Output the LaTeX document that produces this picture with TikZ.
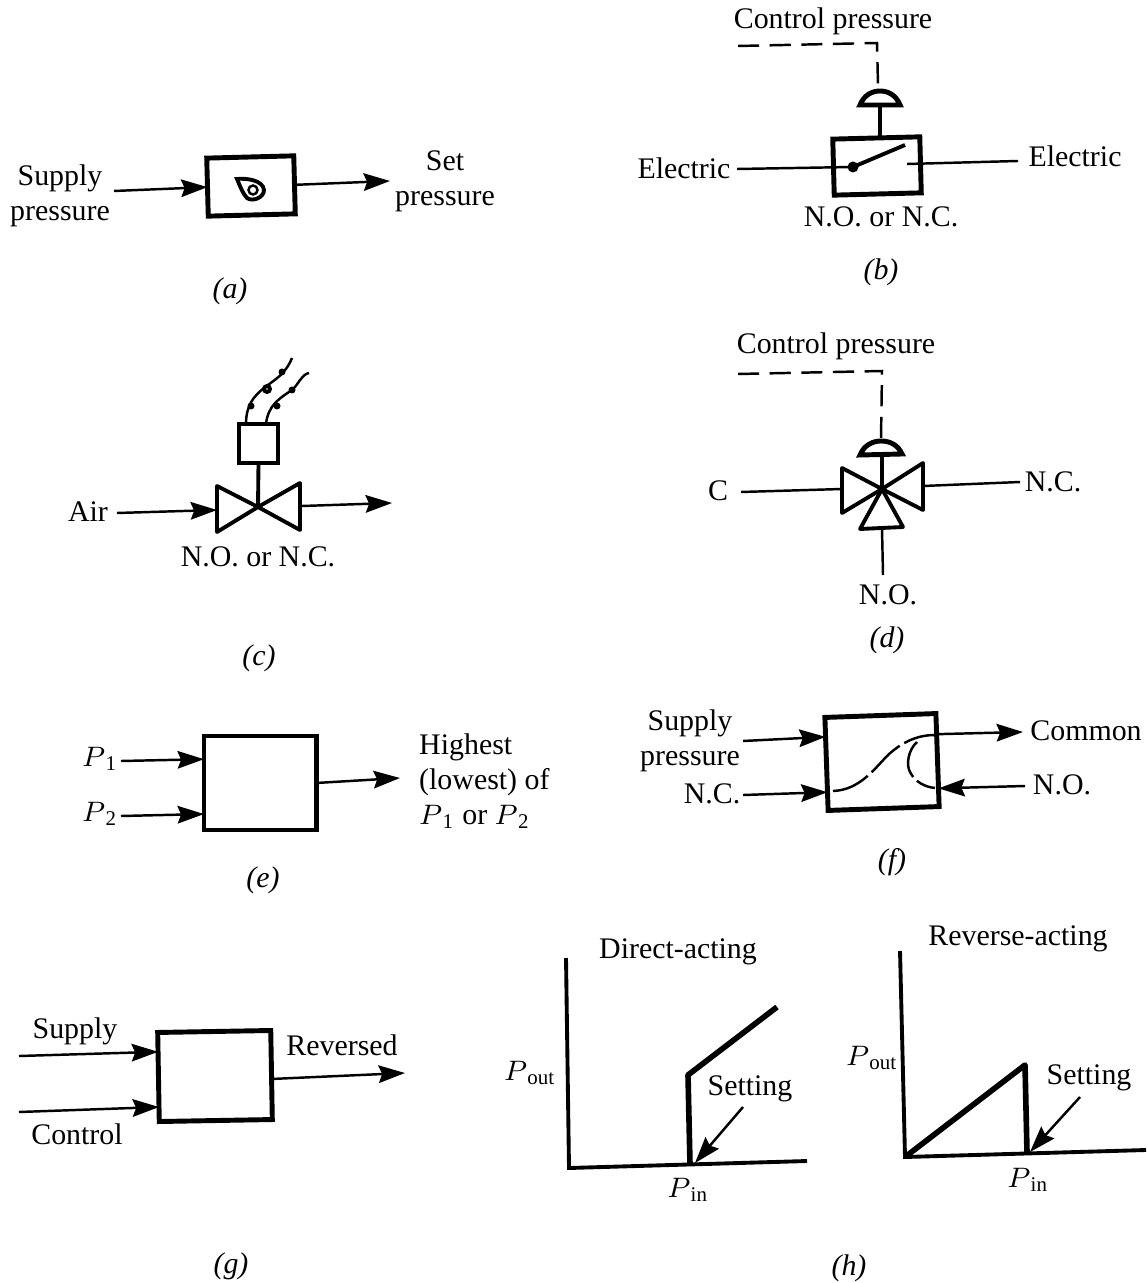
\documentclass[tikz,border=0pt]{standalone}
\usepackage{fontspec}
\setmainfont{Liberation Serif}
\usetikzlibrary{arrows.meta}
\tikzset{
	lbl/.style={font=\fontsize{8.5}{10}\selectfont, inner sep=1pt, align=center},
	thinline/.style={line width=0.7pt},
	midline/.style={line width=1.1pt},
	thickline/.style={line width=1.4pt},
	arrline/.style={thinline, -{Stealth[length=7.5pt,width=5pt,inset=1pt]}},
	dashline/.style={thinline, dash pattern=on 6pt off 3pt},
	blockbox/.style={draw, thickline, inner sep=0pt, outer sep=0pt},
	graphline/.style={line width=1.6pt, line join=round},
}
\begin{document}
\begin{tikzpicture}[x=0.01cm, y=-0.01cm]
	\useasboundingbox (0,0) rectangle (1146,1283);

	\node[blockbox, minimum width=0.87cm, minimum height=0.58cm, rotate=1.5] (abox) at (251,186) {};
	\coordinate (asupply) at (114,191);
	\coordinate (aset) at (390,181);
	\draw[arrline] (asupply) -- (abox.west);
	\draw[arrline] (abox.east) -- (aset);
	\draw[midline] (237,179) .. controls (246,178) and (263,180) .. (264,190) .. controls (264,198) and (252,202) .. (247,198) .. controls (243,194) and (240,186) .. cycle;
	\draw[thinline] (253,190) circle (4.5);
	\node[lbl] (asupplylbl) at (60,196) {Supply\\pressure};
	\node[lbl] (asetlbl) at (445,181) {Set\\pressure};
	\node[lbl] (acap) at (230,291) {\textit{(a)}};

	\node[blockbox, minimum width=0.87cm, minimum height=0.56cm, rotate=1.5] (bbox) at (877,166) {};
	\coordinate (belecl) at (737,169);
	\coordinate (belecr) at (1018,161);
	\coordinate (bdot) at (853,167);
	\coordinate (bcontact) at (907,164);
	\coordinate (barm) at (905,145);
	\coordinate (bstem) at (880,105);
	\coordinate (bstemfoot) at (880,137);
	\coordinate (bctrl) at (738,46);
	\coordinate (bcorner) at (877,43);
	\coordinate (bdome) at (878,86);
	\draw[thinline] (belecl) -- (bdot);
	\draw[thinline] (bcontact) -- (belecr);
	\draw[midline] (bdot) -- (barm);
	\fill (bdot) circle (5.5);
	\draw[thickline] (bstemfoot) -- (bstem);
	\draw[thickline] (860,105) .. controls (864,95) and (872,91) .. (880,91) .. controls (888,91) and (896,95) .. (900,105) -- cycle;
	\draw[dashline] (bctrl) -- (bcorner) -- (bdome);
	\node[lbl] (bctrllbl) at (833,21) {Control pressure};
	\node[lbl] (belecllbl) at (684,168) {Electric};
	\node[lbl] (belecrlbl) at (1075,156) {Electric};
	\node[lbl] (bnote) at (881,217) {N.O. or N.C.};
	\node[lbl] (bcap) at (881,272) {\textit{(b)}};

	\node[blockbox, midline, minimum width=0.39cm, minimum height=0.39cm] (cbox) at (258.5,443.5) {};
	\coordinate (cvalve) at (258,507);
	\coordinate (cair) at (117,513);
	\coordinate (cinl) at (217,510);
	\coordinate (coutl) at (302,506);
	\coordinate (cout) at (392,503);
	\draw[midline] (cbox.south) -- (cvalve);
	\draw[midline, line join=round] (217,486) -- (217,532) -- (cvalve) -- cycle;
	\draw[midline, line join=round] (300,483) -- (300,530) -- (cvalve) -- cycle;
	\draw[arrline] (cair) -- (cinl);
	\draw[arrline] (coutl) -- (cout);
	\draw[thinline] (246,424) .. controls (246,405) and (254,396) .. (264,388) .. controls (274,380) and (285,375) .. (292,358);
	\draw[thinline] (266,424) .. controls (268,405) and (280,398) .. (292,390) .. controls (298,385) and (302,374) .. (309,373);
	\fill (251,406) circle (3.5);
	\draw[midline] (267,389) circle (3);
	\fill (282,372) circle (3.5);
	\fill (277,406) circle (3.5);
	\fill (292,390) circle (3.5);
	\node[lbl] (cairlbl) at (88,512) {Air};
	\node[lbl] (cnote) at (258,557) {N.O. or N.C.};
	\node[lbl] (ccap) at (259,658) {\textit{(c)}};

	\coordinate (dvalve) at (882,489);
	\coordinate (dctrl) at (738,374);
	\coordinate (dcorner) at (882,371);
	\coordinate (ddome) at (881,438);
	\coordinate (dstem) at (882,455);
	\coordinate (dcl) at (741,492);
	\coordinate (dcr) at (842,489);
	\coordinate (dnl) at (923,486);
	\coordinate (dnr) at (1020,482);
	\coordinate (dot) at (882,529);
	\coordinate (dob) at (883,575);
	\draw[midline, line join=round] (842,468) -- (842,513) -- (dvalve) -- cycle;
	\draw[midline, line join=round] (923,463) -- (923,510) -- (dvalve) -- cycle;
	\draw[midline, line join=round] (860,529) -- (903,527) -- (dvalve) -- cycle;
	\draw[midline] (dstem) -- (dvalve);
	\draw[thickline] (860,455) .. controls (864,445) and (873,441) .. (881,441) .. controls (890,441) and (898,445) .. (902,454) -- cycle;
	\draw[dashline] (dctrl) -- (dcorner) -- (ddome);
	\draw[thinline] (dcl) -- (dcr);
	\draw[thinline] (dnl) -- (dnr);
	\draw[thinline] (dot) -- (dob);
	\node[lbl] (dctrllbl) at (836,346) {Control pressure};
	\node[lbl] (dclbl) at (718,491) {C};
	\node[lbl] (dnclbl) at (1053,482) {N.C.};
	\node[lbl] (dnolbl) at (888,595) {N.O.};
	\node[lbl] (dcap) at (887,640) {\textit{(d)}};

	\node[blockbox, minimum width=1.12cm, minimum height=0.94cm] (ebox) at (260,783) {};
	\coordinate (eone) at (121,761);
	\coordinate (etwo) at (121,816);
	\coordinate (eout) at (400,778);
	\draw[arrline] (eone) -- (ebox.157.7);
	\draw[arrline] (etwo) -- (ebox.209.7);
	\draw[arrline] (ebox.east) -- (eout);
	\node[lbl] (eonelbl) at (100,759) {$P_{\,\mathrm{1}}$};
	\node[lbl] (etwolbl) at (100,814) {$P_{\,\mathrm{2}}$};
	\node[lbl, align=left, anchor=west] (eoutlbl) at (415,781) {Highest\\(lowest) of\\$P_{\,\mathrm{1}}$ or $P_{\,\mathrm{2}}$};
	\node[lbl] (ecap) at (263,880) {\textit{(e)}};

	\node[blockbox, minimum width=1.11cm, minimum height=0.93cm, rotate=2] (fbox) at (882,762) {};
	\coordinate (fsupply) at (743,741);
	\coordinate (fnc) at (743,795);
	\coordinate (fcommon) at (1023,732);
	\coordinate (fno) at (1025,786);
	\draw[arrline] (fsupply) -- (fbox.154);
	\draw[arrline] (fnc) -- (fbox.207);
	\draw[arrline] (fbox.25) -- (fcommon);
	\draw[arrline] (fno) -- (fbox.333);
	\draw[thinline, dash pattern=on 11pt off 1.5pt] (833,791) .. controls (860,790) and (875,768) .. (888,755) .. controls (900,744) and (915,735) .. (935,735);
	\draw[thinline, dash pattern=on 11pt off 1.5pt] (917,742) .. controls (908,750) and (906,765) .. (910,772) .. controls (915,782) and (925,787) .. (935,788);
	\node[lbl] (fsupplylbl) at (690,741) {Supply\\pressure};
	\node[lbl] (fnclbl) at (712,794) {N.C.};
	\node[lbl] (fcommonlbl) at (1086,731) {Common};
	\node[lbl] (fnolbl) at (1062,785) {N.O.};
	\node[lbl] (fcap) at (892,862) {\textit{(f)}};

	\node[blockbox, minimum width=1.13cm, minimum height=0.89cm, rotate=1] (gbox) at (215,1076) {};
	\coordinate (gsupply) at (19,1056);
	\coordinate (gctrl) at (19,1112);
	\coordinate (gout) at (405,1073);
	\draw[arrline] (gsupply) -- (gbox.156);
	\draw[arrline] (gctrl) -- (gbox.208);
	\draw[arrline] (gbox.356) -- (gout);
	\node[lbl] (gsupplylbl) at (75,1031) {Supply};
	\node[lbl] (gctrllbl) at (77,1134) {Control};
	\node[lbl] (goutlbl) at (342,1045) {Reversed};
	\node[lbl] (gcap) at (231,1266) {\textit{(g)}};

	\coordinate (ltop) at (566,958);
	\coordinate (lorigin) at (569,1168);
	\coordinate (lend) at (807,1161);
	\coordinate (lfoot) at (690,1165);
	\coordinate (lknee) at (688,1075);
	\coordinate (lhigh) at (777,1007);
	\coordinate (lsetfrom) at (743,1107);
	\coordinate (lsetto) at (695,1163);
	\draw[midline, line join=miter] (ltop) -- (lorigin) -- (lend);
	\draw[graphline] (lfoot) -- (lknee) -- (lhigh);
	\draw[arrline] (lsetfrom) -- (lsetto);
	\node[lbl] (ltitle) at (678,952) {Direct-acting};
	\node[lbl] (loutlbl) at (530,1073) {$P_{\,\mathrm{out}}$};
	\node[lbl] (lsetlbl) at (750,1089) {Setting};
	\node[lbl] (linlbl) at (688,1190) {$P_{\,\mathrm{in}}$};

	\coordinate (rtop) at (900,951);
	\coordinate (rorigin) at (905,1157);
	\coordinate (rend) at (1146,1150);
	\coordinate (rpeak) at (1025,1065);
	\coordinate (rfoot) at (1027,1153);
	\coordinate (rsetfrom) at (1080,1097);
	\coordinate (rsetto) at (1030,1152);
	\draw[midline, line join=miter] (rtop) -- (rorigin) -- (rend);
	\draw[graphline] (rorigin) -- (rpeak) -- (rfoot);
	\draw[arrline] (rsetfrom) -- (rsetto);
	\node[lbl] (rtitle) at (1018,939) {Reverse-acting};
	\node[lbl] (routlbl) at (872,1058) {$P_{\,\mathrm{out}}$};
	\node[lbl] (rsetlbl) at (1089,1078) {Setting};
	\node[lbl] (rinlbl) at (1028,1180) {$P_{\,\mathrm{in}}$};
	\node[lbl] (hcap) at (849,1268) {\textit{(h)}};
\end{tikzpicture}
\end{document}
